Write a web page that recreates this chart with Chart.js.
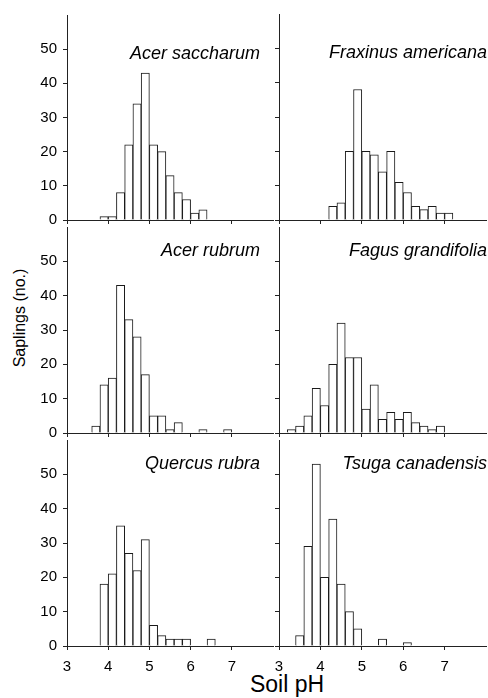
<!DOCTYPE html>
<html>
<head>
<meta charset="utf-8">
<script src="https://cdn.jsdelivr.net/npm/chart.js@4.4.0/dist/chart.umd.min.js"></script>
<style>
  html, body { margin: 0; padding: 0; background: #fff; }
  #wrap { position: relative; width: 488px; height: 698px; overflow: hidden; font-family: "Liberation Sans", Arial, sans-serif; color: #000; }
  #wrap canvas { position: absolute; left: 0; top: 0; }
  .ylab { position: absolute; left: 20px; top: 318px; transform: translate(-50%, -50%) rotate(-90deg); font-size: 16px; white-space: nowrap; }
  .xlab { position: absolute; left: 287px; top: 684px; transform: translate(-50%, -50%); font-size: 23px; white-space: nowrap; }
</style>
</head>
<body>
<div id="wrap">
  <div class="ylab">Saplings (no.)</div>
  <div class="xlab">Soil pH</div>
</div>
<script>
// histogram bins: 0.2 pH wide, centres from 3.1 to 7.9
const binCenters = [3.1, 3.3, 3.5, 3.7, 3.9, 4.1, 4.3, 4.5, 4.7, 4.9, 5.1, 5.3, 5.5, 5.7, 5.9, 6.1, 6.3, 6.5, 6.7, 6.9, 7.1, 7.3, 7.5, 7.7, 7.9];

const acerSaccharum    = [0, 0, 0, 0, 1, 1, 8, 22, 34, 43, 22, 20, 13, 8, 6, 2, 3, 0, 0, 0, 0, 0, 0, 0, 0];
const fraxinusAmericana = [0, 0, 0, 0, 0, 0, 4, 5, 20, 38, 20, 19, 14, 20, 11, 8, 4, 3, 4, 2, 2, 0, 0, 0, 0];
const acerRubrum       = [0, 0, 0, 2, 14, 16, 43, 33, 28, 17, 5, 5, 1, 3, 0, 0, 1, 0, 0, 1, 0, 0, 0, 0, 0];
const fagusGrandifolia = [0, 1, 2, 5, 13, 8, 20, 32, 22, 22, 7, 14, 4, 6, 4, 6, 3, 2, 1, 2, 0, 0, 0, 0, 0];
const quercusRubra     = [0, 0, 0, 0, 18, 21, 35, 27, 22, 31, 6, 3, 2, 2, 2, 0, 0, 2, 0, 0, 0, 0, 0, 0, 0];
const tsugaCanadensis  = [0, 0, 3, 29, 53, 20, 37, 18, 10, 5, 0, 0, 2, 0, 0, 1, 0, 0, 0, 0, 0, 0, 0, 0, 0];

const speciesNames = ['Acer saccharum', 'Fraxinus americana', 'Acer rubrum', 'Fagus grandifolia', 'Quercus rubra', 'Tsuga canadensis'];
const speciesCounts = [acerSaccharum, fraxinusAmericana, acerRubrum, fagusGrandifolia, quercusRubra, tsugaCanadensis];

const xTicks = [3, 4, 5, 6, 7];
const yTicks = [0, 10, 20, 30, 40, 50];

// panel geometry (plot area in page pixels)
const W = 488, H = 698;
const colLeft = [67, 279], colRight = [273, 486];
const rowTop = [14, 227, 440], rowBottom = [220, 433, 646];
const YW = 40, XH = 30;
const titleDy = [44, 29, 29];
const titleDx = [-13, 1];

const FONT = '"Liberation Sans", Arial, Helvetica, sans-serif';
Chart.defaults.font.family = FONT;
Chart.defaults.color = '#000';

const panelTitle = {
  id: 'panelTitle',
  afterDraw(chart, args, opts) {
    const { ctx, chartArea } = chart;
    ctx.save();
    ctx.font = 'italic 18px ' + FONT;
    ctx.fillStyle = '#000';
    ctx.textAlign = 'right';
    ctx.textBaseline = 'alphabetic';
    ctx.fillText(opts.text, chartArea.right + opts.dx, chartArea.top + opts.dy);
    ctx.restore();
  }
};

const wrap = document.getElementById('wrap');

speciesNames.forEach((name, i) => {
  const col = i % 2, row = Math.floor(i / 2);
  const counts = speciesCounts[i];
  const cv = document.createElement('canvas');
  cv.width = W; cv.height = H;
  wrap.appendChild(cv);

  new Chart(cv, {
    type: 'bar',
    data: {
      datasets: [{
        data: binCenters.map((x, k) => ({ x: x, y: counts[k] ? counts[k] : null })),
        backgroundColor: '#fff',
        borderColor: '#1a1a1a',
        borderWidth: 1,
        barPercentage: 1,
        categoryPercentage: 1
      }]
    },
    options: {
      responsive: false,
      animation: false,
      devicePixelRatio: 1,
      layout: {
        padding: {
          left: colLeft[col] - YW,
          right: W - colRight[col],
          top: rowTop[row],
          bottom: H - rowBottom[row] - XH
        }
      },
      plugins: {
        legend: { display: false },
        tooltip: { enabled: false },
        panelTitle: { text: name, dx: titleDx[col], dy: titleDy[row] }
      },
      scales: {
        x: {
          type: 'linear',
          min: 3, max: 8,
          offset: false,
          afterBuildTicks: s => { s.ticks = xTicks.map(v => ({ value: v })); },
          afterFit: s => { s.height = XH; },
          grid: { drawOnChartArea: false, drawTicks: true, tickLength: 4, color: '#222', offset: false },
          border: { color: '#222', width: 1 },
          ticks: { display: row === 2, font: { size: 15 }, padding: 8, maxRotation: 0, autoSkip: false }
        },
        y: {
          min: 0, max: 60,
          afterBuildTicks: s => { s.ticks = yTicks.map(v => ({ value: v })); },
          afterFit: s => { s.width = YW; },
          grid: { drawOnChartArea: false, drawTicks: true, tickLength: 4, color: '#222' },
          border: { color: '#222', width: 1 },
          ticks: { display: col === 0, font: { size: 15 }, padding: 6 }
        }
      }
    },
    plugins: [panelTitle]
  });
});
</script>
</body>
</html>
